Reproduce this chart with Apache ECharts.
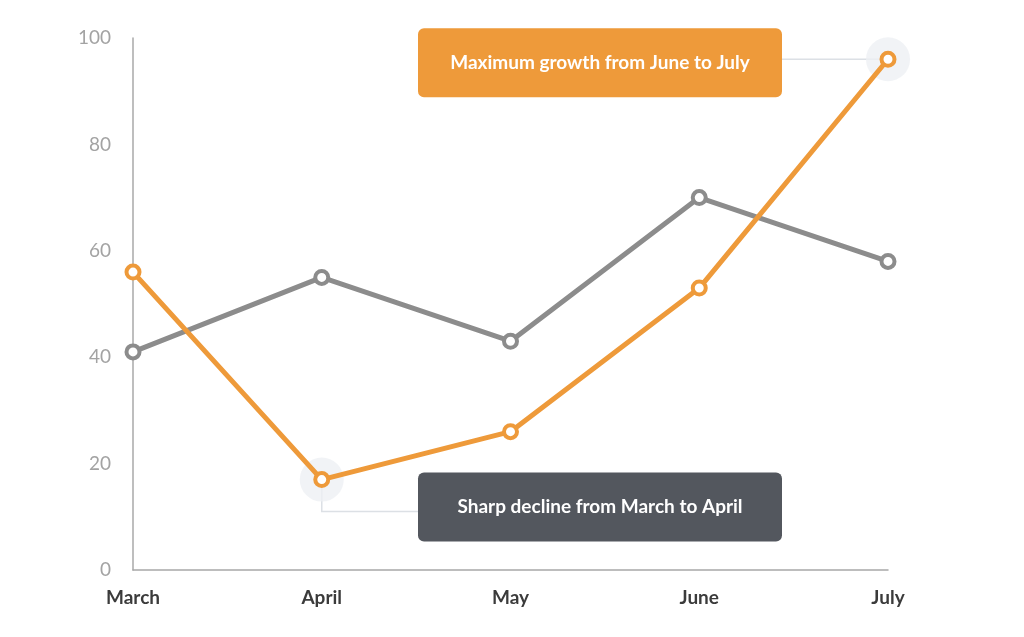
<!DOCTYPE html>
<html>
<head>
<meta charset="utf-8">
<script src="https://cdn.jsdelivr.net/npm/echarts@6/dist/echarts.min.js"></script>
<style>
  html, body { margin: 0; padding: 0; background: #fff; }
  #chart { width: 1024px; height: 637px; }
</style>
</head>
<body>
<div id="chart"></div>
<script>
// data
const months = ['March', 'April', 'May', 'June', 'July']
const grayValues = [41, 55, 43, 70, 58]
const orangeValues = [56, 17, 26, 53, 96]
const yTicks = [0, 20, 40, 60, 80, 100]
const notes = [
  { text: 'Maximum growth from June to July', at: 4, color: '#EE9A3A' },
  { text: 'Sharp decline from March to April', at: 1, color: '#53575E' }
]

const ORANGE = '#EE9A3A'
const GRAY = '#8C8C8C'
const font = 'Lato, "Open Sans", sans-serif'

const chart = echarts.init(document.getElementById('chart'))

function lineSeries(name, values, color, z) {
  return {
    name: name,
    type: 'line',
    data: values,
    z: z,
    symbol: 'circle',
    symbolSize: 13,
    lineStyle: { color: color, width: 5 },
    itemStyle: { color: '#fff', borderColor: color, borderWidth: 4 },
    emphasis: { disabled: true },
    animation: false
  }
}

chart.setOption({
  animation: false,
  grid: { left: 133, right: 136, top: 38, bottom: 67 },
  xAxis: {
    type: 'category',
    data: months,
    boundaryGap: false,
    axisLine: { lineStyle: { color: '#A8A8A8', width: 1.5 } },
    axisTick: { show: false },
    axisLabel: { color: '#3B3B3B', fontFamily: font, fontWeight: 'bold', fontSize: 19, margin: 18 }
  },
  yAxis: {
    type: 'value',
    min: yTicks[0],
    max: yTicks[yTicks.length - 1],
    interval: yTicks[1] - yTicks[0],
    axisLine: { show: true, lineStyle: { color: '#A8A8A8', width: 1.5 } },
    axisTick: { show: false },
    splitLine: { show: false },
    axisLabel: { color: '#A3A3A3', fontFamily: font, fontSize: 19, margin: 22 }
  },
  series: [
    {
      type: 'scatter',
      z: 1,
      symbolSize: 44,
      silent: true,
      itemStyle: { color: '#EDF0F4' },
      data: notes.map(n => [months[n.at], orangeValues[n.at]])
    },
    lineSeries('gray', grayValues, GRAY, 2),
    lineSeries('orange', orangeValues, ORANGE, 3)
  ]
})

// callouts, anchored to the data points through the chart's own scales
function drawNotes() {
  const boxLeft = 418, boxW = 364, boxH = 69
  const elements = []
  const top = chart.convertToPixel({ seriesIndex: 2 }, [notes[0].at, orangeValues[notes[0].at]])
  const low = chart.convertToPixel({ seriesIndex: 2 }, [notes[1].at, orangeValues[notes[1].at]])
  const lineStyle = { stroke: '#DCE0E5', lineWidth: 1.5 }
  const textFont = 'bold 19px ' + font

  // top note: box centred on the July point's height
  const topBoxY = top[1] - 31
  elements.push({
    type: 'polyline', z: 0, silent: true,
    shape: { points: [[boxLeft + boxW, top[1]], [top[0], top[1]]] },
    style: lineStyle
  })
  elements.push({
    type: 'rect', z: 10, silent: true,
    shape: { x: boxLeft, y: topBoxY, width: boxW, height: boxH, r: 6 },
    style: { fill: notes[0].color }
  })
  elements.push({
    type: 'text', z: 11, silent: true,
    style: {
      x: boxLeft + boxW / 2, y: topBoxY + boxH / 2, text: notes[0].text,
      fill: '#fff', font: textFont, align: 'center', verticalAlign: 'middle'
    }
  })

  // bottom note: elbow connector from the April point
  const lowBoxY = low[1] - 7
  const elbowY = lowBoxY + 39
  elements.push({
    type: 'polyline', z: 0, silent: true,
    shape: { points: [[low[0], low[1]], [low[0], elbowY], [boxLeft, elbowY]] },
    style: lineStyle
  })
  elements.push({
    type: 'rect', z: 10, silent: true,
    shape: { x: boxLeft, y: lowBoxY, width: boxW, height: boxH, r: 6 },
    style: { fill: notes[1].color }
  })
  elements.push({
    type: 'text', z: 11, silent: true,
    style: {
      x: boxLeft + boxW / 2, y: lowBoxY + boxH / 2, text: notes[1].text,
      fill: '#fff', font: textFont, align: 'center', verticalAlign: 'middle'
    }
  })

  chart.setOption({ graphic: { elements: elements } })
}
drawNotes()
</script>
</body>
</html>
